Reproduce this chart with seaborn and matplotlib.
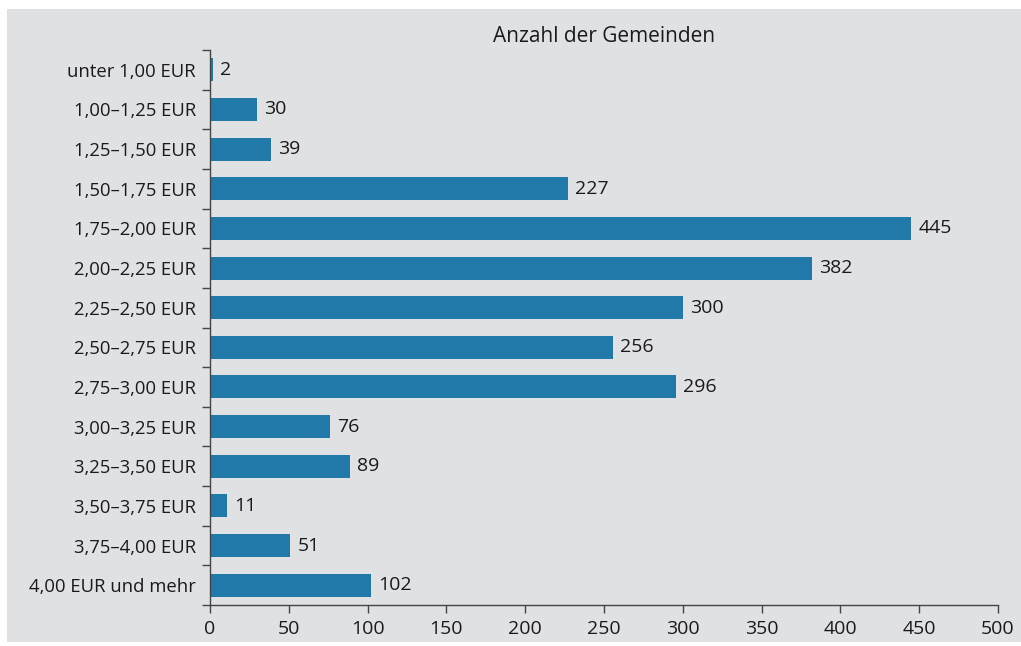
import matplotlib.pyplot as plt
import seaborn as sns
import pandas as pd
import numpy as np
from matplotlib.patches import Rectangle

# Hebesatz-Klassen und Anzahl der Gemeinden
kategorien = [
    "unter 1,00 EUR", "1,00–1,25 EUR", "1,25–1,50 EUR", "1,50–1,75 EUR",
    "1,75–2,00 EUR", "2,00–2,25 EUR", "2,25–2,50 EUR", "2,50–2,75 EUR",
    "2,75–3,00 EUR", "3,00–3,25 EUR", "3,25–3,50 EUR", "3,50–3,75 EUR",
    "3,75–4,00 EUR", "4,00 EUR und mehr",
]
anzahl = [2, 30, 39, 227, 445, 382, 300, 256, 296, 76, 89, 11, 51, 102]
x_ticks = [0, 50, 100, 150, 200, 250, 300, 350, 400, 450, 500]
titel = "Anzahl der Gemeinden"

bg = "#e0e1e3"
bar_color = "#2179a9"
text_color = "#1a1a1a"
axis_color = "#444444"

sns.set_theme(style="white")
plt.rcParams['font.family'] = ['Open Sans', 'DejaVu Sans']

df = pd.DataFrame({"Kategorie": kategorien, "Anzahl": anzahl})

fig = plt.figure(figsize=(10.21, 6.46), dpi=100, facecolor="white")
# grauer Hintergrund mit weissem Rand
fig.patches.append(Rectangle((7 / 1021, 4 / 646), 1 - 7 / 1021, 1 - 13 / 646,
                             transform=fig.transFigure, facecolor=bg,
                             edgecolor="none", zorder=-10))
ax = fig.add_axes([210 / 1021, 1 - 605 / 646, (998 - 210) / 1021, (605 - 50) / 646])
ax.set_facecolor(bg)
ax.patch.set_alpha(0)

sns.barplot(data=df, x="Anzahl", y="Kategorie", orient="h", color=bar_color,
            width=0.58, saturation=1, linewidth=0, ax=ax)
ax.bar_label(ax.containers[0], labels=[str(v) for v in anzahl], padding=5,
             fontsize=14, color=text_color)

ax.set_xlim(0, 500)
ax.set_ylim(len(kategorien) - 0.5, -0.5)
ax.set_xticks(x_ticks)
ax.set_xlabel("")
ax.set_ylabel("")
ax.set_title(titel, fontsize=15, color=text_color, pad=6)

# Ticks an den Klassengrenzen
ax.set_yticks(np.arange(-0.5, len(kategorien)), minor=True)
ax.tick_params(axis="y", which="major", length=0, pad=10, labelsize=13.3,
               labelcolor=text_color)
ax.tick_params(axis="y", which="minor", left=True, length=6, width=1,
               color=axis_color)
ax.tick_params(axis="x", which="major", bottom=True, length=6, width=1,
               color=axis_color, labelsize=14, labelcolor=text_color, pad=5)

for side in ["top", "right"]:
    ax.spines[side].set_visible(False)
for side in ["left", "bottom"]:
    ax.spines[side].set_color(axis_color)
    ax.spines[side].set_linewidth(1)

fig.savefig("out.png", dpi=100, facecolor="white")
